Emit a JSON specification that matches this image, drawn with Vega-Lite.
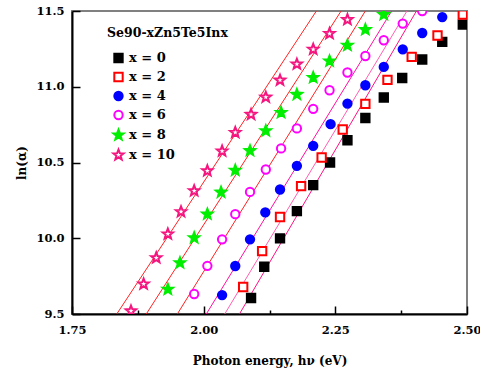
{
  "$schema": "https://vega.github.io/schema/vega-lite/v6.json",
  "width": 395,
  "height": 303,
  "autosize": {"type": "none"},
  "padding": {"left": 72, "top": 11, "right": 13, "bottom": 58},
  "config": {
    "view": {"stroke": "#808080", "strokeWidth": 2},
    "font": "DejaVu Serif"
  },
  "datasets": {
    "pts": [
      {"s": "x = 0", "e": 2.090, "a": 9.606}, {"s": "x = 0", "e": 2.115, "a": 9.812}, {"s": "x = 0", "e": 2.145, "a": 9.999}, {"s": "x = 0", "e": 2.177, "a": 10.179}, {"s": "x = 0", "e": 2.208, "a": 10.351}, {"s": "x = 0", "e": 2.240, "a": 10.500}, {"s": "x = 0", "e": 2.273, "a": 10.647}, {"s": "x = 0", "e": 2.307, "a": 10.794}, {"s": "x = 0", "e": 2.342, "a": 10.929}, {"s": "x = 0", "e": 2.377, "a": 11.058}, {"s": "x = 0", "e": 2.415, "a": 11.180}, {"s": "x = 0", "e": 2.453, "a": 11.296}, {"s": "x = 0", "e": 2.492, "a": 11.410},
      {"s": "x = 2", "e": 2.075, "a": 9.678}, {"s": "x = 2", "e": 2.111, "a": 9.915}, {"s": "x = 2", "e": 2.145, "a": 10.140}, {"s": "x = 2", "e": 2.185, "a": 10.344}, {"s": "x = 2", "e": 2.224, "a": 10.533}, {"s": "x = 2", "e": 2.264, "a": 10.718}, {"s": "x = 2", "e": 2.307, "a": 10.887}, {"s": "x = 2", "e": 2.349, "a": 11.045}, {"s": "x = 2", "e": 2.395, "a": 11.197}, {"s": "x = 2", "e": 2.444, "a": 11.338}, {"s": "x = 2", "e": 2.492, "a": 11.476},
      {"s": "x = 4", "e": 2.035, "a": 9.625}, {"s": "x = 4", "e": 2.060, "a": 9.817}, {"s": "x = 4", "e": 2.088, "a": 9.993}, {"s": "x = 4", "e": 2.117, "a": 10.171}, {"s": "x = 4", "e": 2.145, "a": 10.322}, {"s": "x = 4", "e": 2.177, "a": 10.478}, {"s": "x = 4", "e": 2.208, "a": 10.610}, {"s": "x = 4", "e": 2.241, "a": 10.753}, {"s": "x = 4", "e": 2.273, "a": 10.889}, {"s": "x = 4", "e": 2.307, "a": 11.010}, {"s": "x = 4", "e": 2.342, "a": 11.131}, {"s": "x = 4", "e": 2.378, "a": 11.247}, {"s": "x = 4", "e": 2.415, "a": 11.355}, {"s": "x = 4", "e": 2.453, "a": 11.460},
      {"s": "x = 6", "e": 1.982, "a": 9.632}, {"s": "x = 6", "e": 2.007, "a": 9.818}, {"s": "x = 6", "e": 2.035, "a": 9.993}, {"s": "x = 6", "e": 2.060, "a": 10.159}, {"s": "x = 6", "e": 2.088, "a": 10.306}, {"s": "x = 6", "e": 2.118, "a": 10.454}, {"s": "x = 6", "e": 2.147, "a": 10.593}, {"s": "x = 6", "e": 2.177, "a": 10.725}, {"s": "x = 6", "e": 2.208, "a": 10.854}, {"s": "x = 6", "e": 2.239, "a": 10.977}, {"s": "x = 6", "e": 2.273, "a": 11.094}, {"s": "x = 6", "e": 2.307, "a": 11.203}, {"s": "x = 6", "e": 2.342, "a": 11.307}, {"s": "x = 6", "e": 2.378, "a": 11.417}, {"s": "x = 6", "e": 2.415, "a": 11.500},
      {"s": "x = 8", "e": 1.932, "a": 9.663}, {"s": "x = 8", "e": 1.955, "a": 9.838}, {"s": "x = 8", "e": 1.982, "a": 10.003}, {"s": "x = 8", "e": 2.007, "a": 10.159}, {"s": "x = 8", "e": 2.033, "a": 10.304}, {"s": "x = 8", "e": 2.060, "a": 10.448}, {"s": "x = 8", "e": 2.088, "a": 10.578}, {"s": "x = 8", "e": 2.118, "a": 10.709}, {"s": "x = 8", "e": 2.147, "a": 10.830}, {"s": "x = 8", "e": 2.177, "a": 10.949}, {"s": "x = 8", "e": 2.208, "a": 11.061}, {"s": "x = 8", "e": 2.239, "a": 11.170}, {"s": "x = 8", "e": 2.273, "a": 11.274}, {"s": "x = 8", "e": 2.307, "a": 11.377}, {"s": "x = 8", "e": 2.342, "a": 11.476},
      {"s": "x = 10", "e": 1.862, "a": 9.520}, {"s": "x = 10", "e": 1.886, "a": 9.698}, {"s": "x = 10", "e": 1.910, "a": 9.871}, {"s": "x = 10", "e": 1.932, "a": 10.028}, {"s": "x = 10", "e": 1.957, "a": 10.175}, {"s": "x = 10", "e": 1.982, "a": 10.313}, {"s": "x = 10", "e": 2.007, "a": 10.445}, {"s": "x = 10", "e": 2.035, "a": 10.575}, {"s": "x = 10", "e": 2.060, "a": 10.698}, {"s": "x = 10", "e": 2.090, "a": 10.817}, {"s": "x = 10", "e": 2.118, "a": 10.931}, {"s": "x = 10", "e": 2.145, "a": 11.043}, {"s": "x = 10", "e": 2.177, "a": 11.149}, {"s": "x = 10", "e": 2.208, "a": 11.247}, {"s": "x = 10", "e": 2.239, "a": 11.351}, {"s": "x = 10", "e": 2.273, "a": 11.443}
    ],
    "fit": [
      {"s": "x = 10", "e": 1.835, "a": 9.5}, {"s": "x = 10", "e": 2.214, "a": 11.5},
      {"s": "x = 8", "e": 1.891, "a": 9.5}, {"s": "x = 8", "e": 2.261, "a": 11.5},
      {"s": "x = 6", "e": 1.950, "a": 9.5}, {"s": "x = 6", "e": 2.307, "a": 11.5},
      {"s": "x = 4", "e": 2.005, "a": 9.5}, {"s": "x = 4", "e": 2.357, "a": 11.5},
      {"s": "x = 2", "e": 2.040, "a": 9.5}, {"s": "x = 2", "e": 2.386, "a": 11.5},
      {"s": "x = 0", "e": 2.068, "a": 9.5}, {"s": "x = 0", "e": 2.404, "a": 11.5}
    ]
  },
  "layer": [
    {
      "data": {"name": "fit"},
      "mark": {"type": "line", "strokeWidth": 1, "clip": true},
      "encoding": {
        "x": {
          "field": "e", "type": "quantitative",
          "scale": {"domain": [1.75, 2.5], "nice": false, "zero": false},
          "axis": {
            "values": [1.75, 1.875, 2, 2.125, 2.25, 2.375, 2.5],
            "labelExpr": "abs(datum.value*4 - round(datum.value*4)) < 0.001 ? format(datum.value, '.2f') : ''",
            "tickSize": {"condition": {"test": "abs(datum.value*4 - round(datum.value*4)) < 0.001", "value": -8}, "value": -4},
            "tickColor": "black", "tickWidth": 1.5,
            "domainColor": "black", "domainWidth": 2,
            "grid": false, "labelFlush": false, "labelOverlap": false,
            "labelFont": "DejaVu Serif", "labelFontWeight": "bold", "labelFontSize": 11.5, "labelColor": "black",
            "labelPadding": 18,
            "title": "Photon energy, hν (eV)",
            "titleFont": "DejaVu Serif", "titleFontWeight": "bold", "titleFontSize": 12, "titleColor": "black",
            "titlePadding": 16
          }
        },
        "y": {
          "field": "a", "type": "quantitative",
          "scale": {"domain": [9.5, 11.5], "nice": false, "zero": false},
          "axis": {
            "values": [9.5, 9.75, 10, 10.25, 10.5, 10.75, 11, 11.25, 11.5],
            "labelExpr": "abs(datum.value*2 - round(datum.value*2)) < 0.001 ? format(datum.value, '.1f') : ''",
            "tickSize": {"condition": {"test": "abs(datum.value*2 - round(datum.value*2)) < 0.001", "value": -8}, "value": -4},
            "tickColor": "black", "tickWidth": 1.5,
            "domainColor": "black", "domainWidth": 2,
            "grid": false, "labelFlush": false, "labelOverlap": false,
            "labelFont": "DejaVu Serif", "labelFontWeight": "bold", "labelFontSize": 11.5, "labelColor": "black",
            "labelPadding": 16,
            "title": "ln(α)",
            "titleFont": "DejaVu Serif", "titleFontWeight": "bold", "titleFontSize": 12, "titleColor": "black",
            "titlePadding": 7
          }
        },
        "detail": {"field": "s"},
        "color": {
          "field": "s", "type": "nominal",
          "scale": {"domain": ["x = 0", "x = 2", "x = 4", "x = 6", "x = 8", "x = 10"], "range": ["#ff1080", "#ff60b0", "#ff10a0", "#ff2020", "#ff2020", "#ff2020"]},
          "legend": null
        }
      }
    },
    {
      "data": {"name": "pts"},
      "mark": {"type": "point", "filled": true, "size": 70, "strokeWidth": 2, "opacity": 1, "clip": true},
      "encoding": {
        "x": {"field": "e", "type": "quantitative"},
        "y": {"field": "a", "type": "quantitative"},
        "shape": {
          "field": "s", "type": "nominal",
          "scale": {"domain": ["x = 0", "x = 2", "x = 4", "x = 6", "x = 8", "x = 10"], "range": ["square", "square", "circle", "circle", "M0,-1.3L0.3233,-0.445L1.2364,-0.4017L0.5231,0.17L0.7641,1.0517L0,0.55L-0.7641,1.0517L-0.5231,0.17L-1.2364,-0.4017L-0.3233,-0.445Z", "M0,-1.3L0.3233,-0.445L1.2364,-0.4017L0.5231,0.17L0.7641,1.0517L0,0.55L-0.7641,1.0517L-0.5231,0.17L-1.2364,-0.4017L-0.3233,-0.445Z"]},
          "legend": {
            "title": "Se90-xZn5Te5Inx",
            "orient": "none", "legendX": 35, "legendY": 16,
            "titleFont": "DejaVu Serif", "titleFontWeight": "bold", "titleFontSize": 12.5, "titleColor": "black",
            "titlePadding": 12,
            "labelFont": "DejaVu Serif", "labelFontWeight": "bold", "labelFontSize": 13, "labelColor": "black",
            "symbolSize": 70, "symbolStrokeWidth": 2, "symbolOffset": 5,
            "rowPadding": 2, "labelOffset": 4, "padding": 0
          }
        },
        "stroke": {
          "field": "s", "type": "nominal",
          "scale": {"domain": ["x = 0", "x = 2", "x = 4", "x = 6", "x = 8", "x = 10"], "range": ["#000000", "#ff0000", "#0000ff", "#ff00ff", "#00ee00", "#f5157f"]},
          "legend": {"title": "Se90-xZn5Te5Inx"}
        },
        "fill": {
          "field": "s", "type": "nominal",
          "scale": {"domain": ["x = 0", "x = 2", "x = 4", "x = 6", "x = 8", "x = 10"], "range": ["#000000", "#ffffff", "#0000ff", "#ffffff", "#00ee00", "#ffffff"]},
          "legend": {"title": "Se90-xZn5Te5Inx"}
        }
      }
    }
  ],
  "resolve": {"scale": {"color": "independent"}}
}
